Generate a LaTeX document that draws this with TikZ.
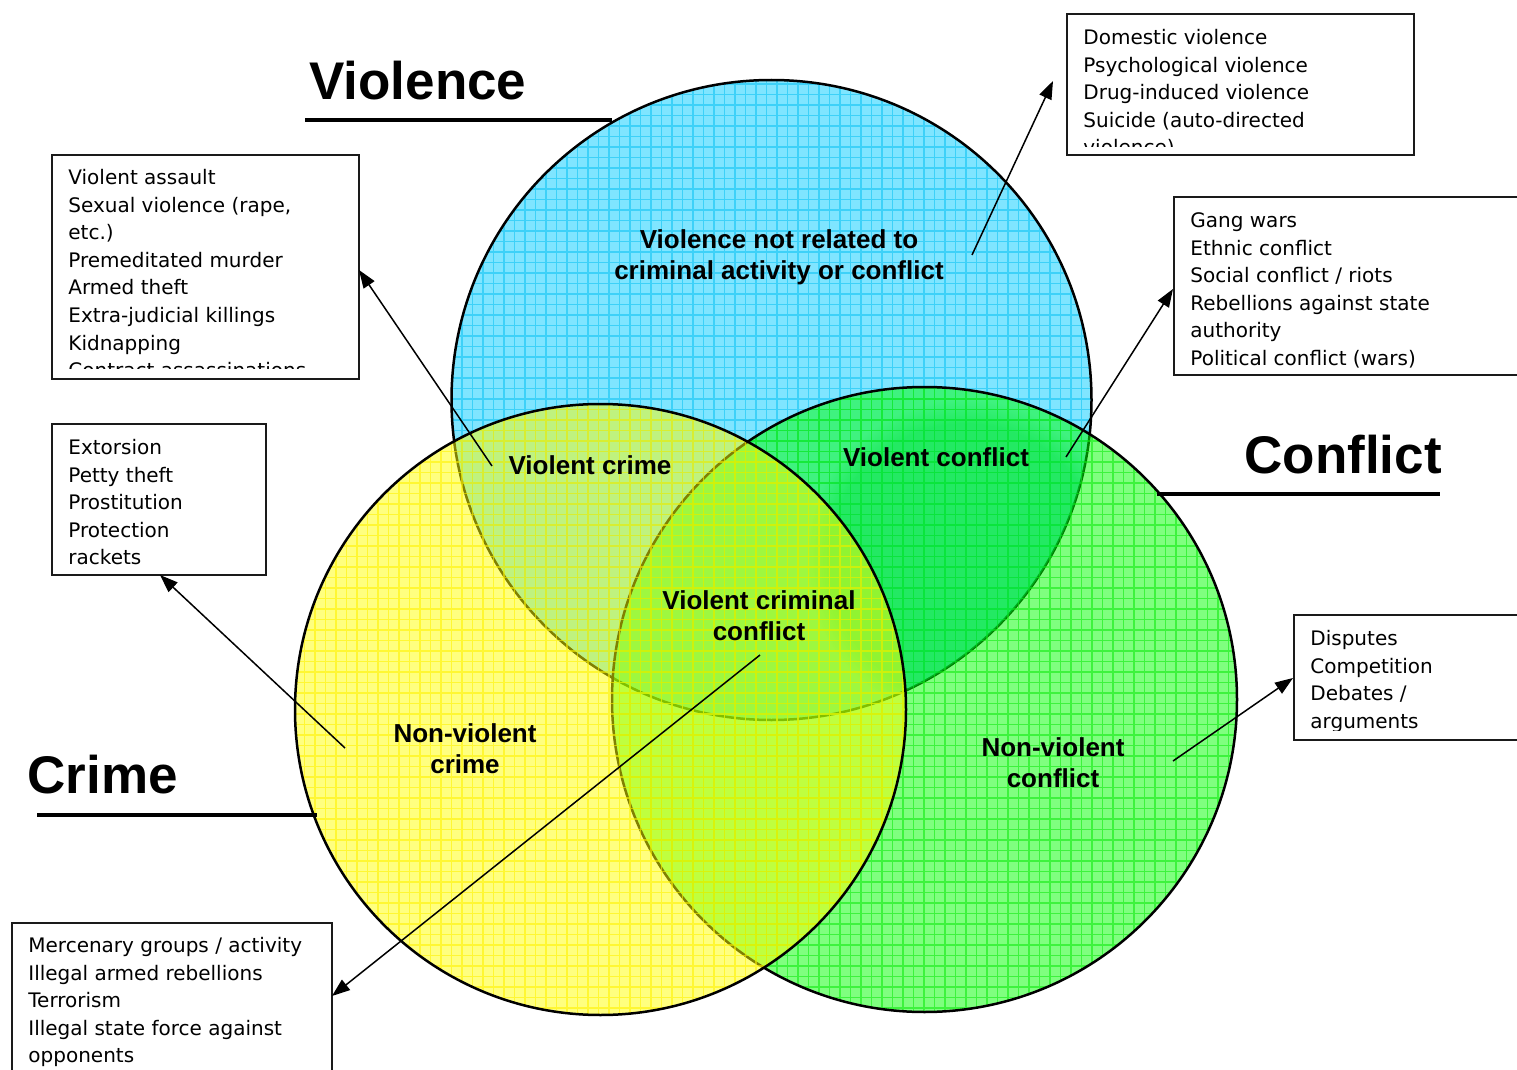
\documentclass[tikz,border=0pt]{standalone}
\usepackage{fontspec}
\setmainfont{DejaVu Sans}
\newfontfamily\labfont{Liberation Sans}
\usetikzlibrary{arrows.meta,fadings}
\definecolor{vblue}{HTML}{00CCFF}
\definecolor{vblueline}{HTML}{10C4F4}
\definecolor{cgreen}{HTML}{00FF00}
\definecolor{cgreenline}{HTML}{10EC10}
\definecolor{cyellow}{HTML}{FFFF00}
\definecolor{cyellowline}{HTML}{FFF200}
\definecolor{deepgreen}{HTML}{00E040}
\definecolor{boxline}{HTML}{1A1A1A}
\tikzset{
  circ/.style={draw=black, line width=1.25pt},
  gridline/.style={line width=0.6pt, step=5.25pt, opacity=0.6},
  boxst/.style={draw=boxline, line width=1pt, fill=white, inner sep=0pt, anchor=north west},
  boxtxt/.style={font=\fontsize{10pt}{13.8pt}\selectfont, align=left, anchor=north west, inner sep=0pt},
  lbl/.style={font=\labfont\bfseries\fontsize{13pt}{15.5pt}\selectfont, align=center, inner sep=0pt},
  ttl/.style={font=\labfont\bfseries\fontsize{26.5pt}{30pt}\selectfont, anchor=base west, inner sep=0pt},
  uline/.style={line width=1.7pt},
  arr/.style={line width=0.75pt, -{Triangle[length=9pt,width=6.5pt]}}
}
\begin{document}
\begin{tikzpicture}[x=0.5pt,y=-0.5pt]
\useasboundingbox (0,0) rectangle (1517,1070);

% Violence circle
\coordinate (cv) at (771.5,400);
\begin{scope}
  \clip (cv) circle[radius=160pt];
  \fill[vblue, opacity=0.5] (cv) circle[radius=160pt];
  \draw[vblueline, gridline] (440,70) grid (1100,730);
\end{scope}
\draw[circ] (cv) circle[radius=160pt];

% Conflict circle
\coordinate (cc) at (924.5,699.5);
\begin{scope}
  \clip (cc) circle[radius=156.25pt];
  \fill[cgreen, opacity=0.5] (cc) circle[radius=156.25pt];
  \draw[cgreenline, gridline] (600,380) grid (1250,1020);
\end{scope}
\begin{scope}
  \clip (cv) circle[radius=160pt];
  \clip (cc) circle[radius=156.25pt];
  \fill[deepgreen, opacity=0.45, path fading=circle with fuzzy edge 15 percent] (965,560) circle[radius=80pt];
\end{scope}
\draw[circ] (cc) circle[radius=156.25pt];

% Crime circle
\coordinate (cr) at (600.5,709.5);
\begin{scope}
  \clip (cr) circle[radius=152.75pt];
  \fill[cyellow, opacity=0.5] (cr) circle[radius=152.75pt];
  \draw[cyellowline, gridline] (290,400) grid (910,1020);
\end{scope}
\draw[circ] (cr) circle[radius=152.75pt];

% Titles
\node[ttl] (tviol) at (309,100) {Violence};
\node[ttl] (tconf) at (1244,473) {Conflict};
\node[ttl] (tcrime) at (27,793) {Crime};
\draw[uline] (305,120) -- (612,120);
\draw[uline] (1157,494) -- (1440,494);
\draw[uline] (37,815) -- (317,815);

% Region labels
\node[lbl] (lv) at (779,257) {Violence not related to\\criminal activity or conflict};
\node[lbl] (lvc) at (590,465) {Violent crime};
\node[lbl] (lvf) at (936,457) {Violent conflict};
\node[lbl] (lvcc) at (759,616) {Violent criminal\\conflict};
\node[lbl] (lnc) at (465,749) {Non-violent\\crime};
\node[lbl] (lnf) at (1053,763) {Non-violent\\conflict};

% Boxes
\node[boxst, minimum width=153.5pt, minimum height=112pt] (b1) at (51,154) {};
\begin{scope}
  \clip (51,154) rectangle (358,368);
  \node[boxtxt] (t1) at (68,164.7) {\strut Violent assault\\Sexual violence (rape,\\etc.)\\Premeditated murder\\Armed theft\\Extra-judicial killings\\Kidnapping\\Contract assassinations};
\end{scope}

\node[boxst, minimum width=107pt, minimum height=75.5pt] (b2) at (51,423) {};
\node[boxtxt] (t2) at (68,434.7) {\strut Extorsion\\Petty theft\\Prostitution\\Protection\\rackets};

\node[boxst, minimum width=160pt, minimum height=81.5pt] (b3) at (11,922) {};
\node[boxtxt] (t3) at (28,932.7) {\strut Mercenary groups / activity\\Illegal armed rebellions\\Terrorism\\Illegal state force against\\opponents};

\node[boxst, minimum width=173.5pt, minimum height=70.5pt] (b4) at (1066,13) {};
\begin{scope}
  \clip (1066,13) rectangle (1413,147);
  \node[boxtxt] (t4) at (1083,24.7) {\strut Domestic violence\\Psychological violence\\Drug-induced violence\\Suicide (auto-directed\\violence)};
\end{scope}

\node[boxst, minimum width=178.5pt, minimum height=89pt] (b5) at (1173,196) {};
\node[boxtxt] (t5) at (1190,207.7) {\strut Gang wars\\Ethnic conflict\\Social conflict / riots\\Rebellions against state\\authority\\Political conflict (wars)};

\node[boxst, minimum width=118.5pt, minimum height=62.5pt] (b6) at (1293,614) {};
\begin{scope}
  \clip (1293,614) rectangle (1530,730);
  \node[boxtxt] (t6) at (1310,625.7) {\strut Disputes\\Competition\\Debates /\\arguments};
\end{scope}

% Connectors
\coordinate (s1) at (492,466);   \coordinate (e1) at (359,270);
\coordinate (s2) at (345,748);   \coordinate (e2) at (160,575);
\coordinate (s3) at (760,655);   \coordinate (e3) at (332,996);
\coordinate (s4) at (972,255);   \coordinate (e4) at (1053,81);
\coordinate (s5) at (1066,457);  \coordinate (e5) at (1173,289);
\coordinate (s6) at (1173,761);  \coordinate (e6) at (1293,678);
\draw[arr] (s1) -- (e1);
\draw[arr] (s2) -- (e2);
\draw[arr] (s3) -- (e3);
\draw[arr] (s4) -- (e4);
\draw[arr] (s5) -- (e5);
\draw[arr] (s6) -- (e6);
\end{tikzpicture}
\end{document}
